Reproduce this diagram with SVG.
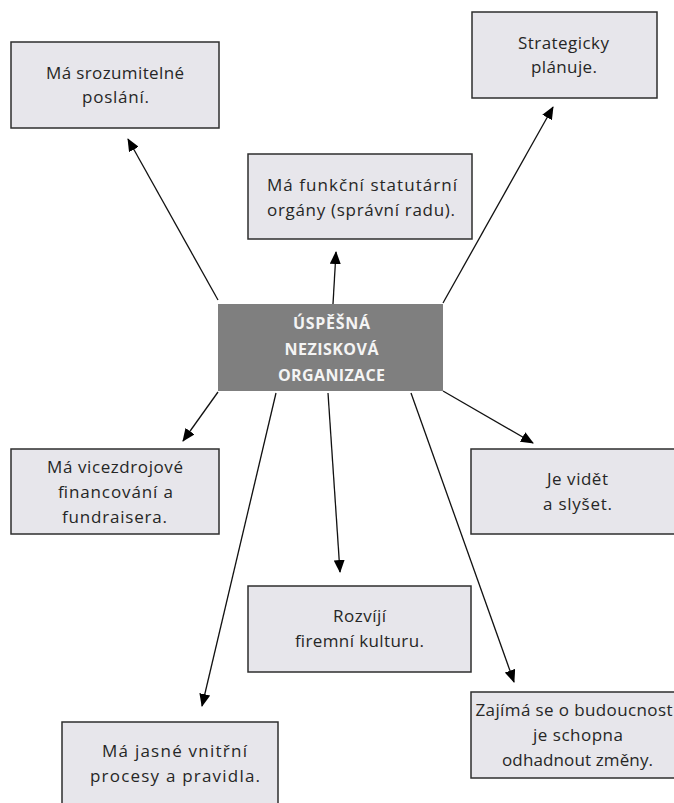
<svg xmlns="http://www.w3.org/2000/svg" width="674" height="803" viewBox="0 0 674 803">
<defs>
<style>
.box{fill:#e7e6eb;stroke:#2e2e2e;stroke-width:1.5}
.t{font-family:"Open Sans","Liberation Sans",sans-serif;font-size:17px;fill:#262626;text-anchor:middle}
.c{font-family:"Open Sans","Liberation Sans",sans-serif;font-size:16px;font-weight:bold;fill:#f4f4f4;text-anchor:middle}
.ln{stroke:#111;stroke-width:1.3;fill:none;marker-end:url(#ah)}
</style>
<marker id="ah" markerUnits="userSpaceOnUse" markerWidth="13" markerHeight="11" refX="12" refY="5.5" orient="auto">
<path d="M0,0 L13,5.5 L0,11 z" fill="#000"/>
</marker>
</defs>
<rect width="674" height="803" fill="#ffffff"/>
<g id="connectors">
<line class="ln" x1="218" y1="300" x2="128" y2="139"/>
<line class="ln" x1="333" y1="304" x2="336" y2="252"/>
<line class="ln" x1="443" y1="303" x2="553" y2="107"/>
<line class="ln" x1="218" y1="392" x2="183" y2="441"/>
<line class="ln" x1="276" y1="393" x2="202" y2="706"/>
<line class="ln" x1="328" y1="393" x2="340" y2="572"/>
<line class="ln" x1="411" y1="393" x2="514" y2="682"/>
<line class="ln" x1="443" y1="391" x2="533" y2="443"/>
</g>
<g id="center">
<rect x="218" y="304" width="225" height="87" fill="#7f7f7f"/>
<text class="c" x="331.5" y="329" textLength="77" lengthAdjust="spacing">ÚSPĚŠNÁ</text>
<text class="c" x="331.5" y="355" textLength="94" lengthAdjust="spacing">NEZISKOVÁ</text>
<text class="c" x="331.5" y="381" textLength="107" lengthAdjust="spacing">ORGANIZACE</text>
</g>
<g id="n-poslani">
<rect class="box" x="11" y="42" width="208" height="86"/>
<text class="t" x="115" y="79" textLength="138" lengthAdjust="spacing">Má srozumitelné</text>
<text class="t" x="115.5" y="103" textLength="67" lengthAdjust="spacing">poslání.</text>
</g>
<g id="n-organy">
<rect class="box" x="248" y="154" width="224" height="85"/>
<text class="t" x="362" y="191" textLength="190" lengthAdjust="spacing">Má funkční statutární</text>
<text class="t" x="361" y="216" textLength="188" lengthAdjust="spacing">orgány (správní radu).</text>
</g>
<g id="n-strategie">
<rect class="box" x="472" y="12" width="185" height="86"/>
<text class="t" x="563.5" y="49" textLength="91" lengthAdjust="spacing">Strategicky</text>
<text class="t" x="564" y="73" textLength="66" lengthAdjust="spacing">plánuje.</text>
</g>
<g id="n-financovani">
<rect class="box" x="11" y="449" width="208" height="85"/>
<text class="t" x="115" y="473" textLength="136" lengthAdjust="spacing">Má vicezdrojové</text>
<text class="t" x="115.5" y="498" textLength="115" lengthAdjust="spacing">financování a</text>
<text class="t" x="114.5" y="523" textLength="105" lengthAdjust="spacing">fundraisera.</text>
</g>
<g id="n-videt">
<rect class="box" x="471" y="449" width="214" height="85"/>
<text class="t" x="577.5" y="485" textLength="61" lengthAdjust="spacing">Je vidět</text>
<text class="t" x="577.5" y="510" textLength="69" lengthAdjust="spacing">a slyšet.</text>
</g>
<g id="n-kultura">
<rect class="box" x="248" y="586" width="223" height="86"/>
<text class="t" x="359.5" y="622" textLength="53" lengthAdjust="spacing">Rozvíjí</text>
<text class="t" x="359.5" y="647" textLength="129" lengthAdjust="spacing">firemní kulturu.</text>
</g>
<g id="n-budoucnost">
<rect class="box" x="471" y="692" width="214" height="86"/>
<text class="t" x="574" y="716" textLength="197" lengthAdjust="spacing">Zajímá se o budoucnost</text>
<text class="t" x="578" y="741" textLength="90" lengthAdjust="spacing">je schopna</text>
<text class="t" x="577.5" y="766" textLength="151" lengthAdjust="spacing">odhadnout změny.</text>
</g>
<g id="n-procesy">
<rect class="box" x="62" y="722" width="216" height="90"/>
<text class="t" x="174.5" y="757" textLength="145" lengthAdjust="spacing">Má jasné vnitřní</text>
<text class="t" x="175" y="782" textLength="170" lengthAdjust="spacing">procesy a pravidla.</text>
</g>
</svg>
